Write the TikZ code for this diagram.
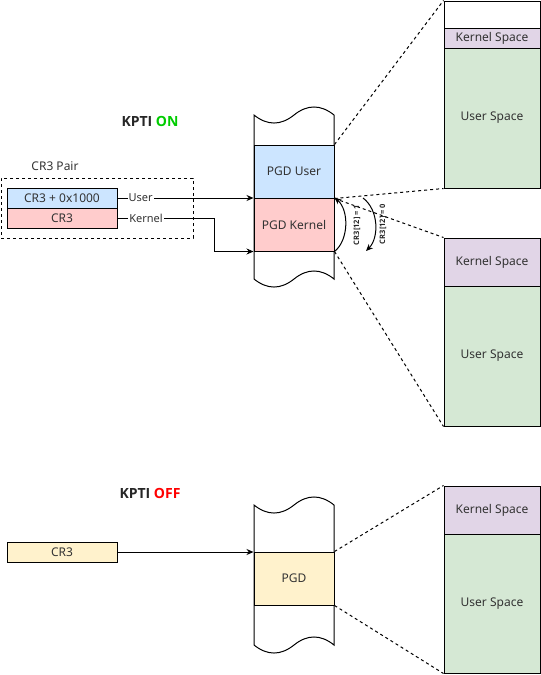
\documentclass[tikz,border=0pt]{standalone}
\usepackage{fontspec}
\setmainfont{Noto Sans}
\newfontfamily\titlefont{Open Sans}
\usetikzlibrary{arrows.meta}
\definecolor{blueF}{HTML}{CCE5FF}
\definecolor{pinkF}{HTML}{FFCCCC}
\definecolor{yellowF}{HTML}{FFF2CC}
\definecolor{purpF}{HTML}{E1D5E7}
\definecolor{greenF}{HTML}{D5E8D4}
\definecolor{txt}{HTML}{333333}
\definecolor{onG}{HTML}{00CC00}
\definecolor{offR}{HTML}{FF0000}
\tikzset{
  base/.style={draw=black, line width=1pt, inner sep=0pt, text=txt, font=\fontsize{12}{14}\selectfont},
  regbox/.style={base, minimum width=110pt, minimum height=20pt},
  pgdbox/.style={base, minimum width=80pt, minimum height=53pt},
  spacebox/.style={base, minimum width=96pt},
  arr/.style={line width=1pt, -{Stealth[length=7pt,width=6pt]}},
  dashln/.style={line width=1pt, dash pattern=on 3pt off 3pt},
  edgelbl/.style={fill=white, inner sep=1pt, text=txt, font=\fontsize{11}{13}\selectfont},
  title/.style={font=\titlefont\fontsize{14}{17}\selectfont\bfseries, text=black!85},
  small/.style={font=\titlefont\fontsize{7.5}{9}\selectfont\bfseries, text=black!85, inner sep=0pt},
  tapeln/.style={line width=1pt}
}
\begin{document}
\begin{tikzpicture}[x=1pt,y=-1pt]
\useasboundingbox (0,0) rectangle (541,675);

% ---------- KPTI ON ----------
\node[title] (ton) at (150,121) {KPTI \textcolor{onG}{ON}};
\node[font=\fontsize{12}{14}\selectfont, text=txt] (pairlbl) at (55,166) {CR3 Pair};
\node[draw=black, line width=1pt, dash pattern=on 3pt off 3pt, minimum width=192pt, minimum height=60pt, inner sep=0pt] (pair) at (97,208) {};
\node[regbox, fill=blueF] (cr3u) at (62,198) {CR3 + 0x1000};
\node[regbox, fill=pinkF] (cr3k) at (62,218) {CR3};

% tape 1
\draw[tapeln] (254,279) -- (254,115)
  .. controls (267.3,125.7) and (280.7,125.7) .. (294,115)
  .. controls (307.3,104.3) and (320.7,104.3) .. (334,115) -- (334,279)
  .. controls (320.7,268.3) and (307.3,268.3) .. (294,279)
  .. controls (280.7,289.7) and (267.3,289.7) .. (254,279);
\node[pgdbox, fill=blueF] (pgdu) at (294,171.5) {PGD User};
\node[pgdbox, fill=pinkF] (pgdk) at (294,224.5) {PGD Kernel};

% right boxes (top)
\node[spacebox, minimum height=27pt, fill=white] (w1) at (492,14.5) {};
\node[spacebox, minimum height=20pt, fill=purpF] (ks1) at (492,38) {Kernel Space};
\node[spacebox, minimum height=140pt, fill=greenF] (us1) at (492,118) {User Space};
% right boxes (middle)
\node[spacebox, minimum height=48pt, fill=purpF] (ks2) at (492,262) {Kernel Space};
\node[spacebox, minimum height=140pt, fill=greenF] (us2) at (492,356) {User Space};

% connectors
\draw[arr] (cr3u.east) -- (cr3u.east -| pgdu.south west)
  node[edgelbl, pos=0.17] (ulbl) {User};
\draw[arr] (cr3k.east) -- ++(97,0) |- (pgdk.south west);
\node[edgelbl] (klbl) at (146,218) {Kernel};

\draw[dashln] (pgdu.north east) -- (w1.north west);
\draw[dashln] (pgdu.south east) -- (us1.south west);
\draw[dashln] (pgdu.south east) -- (ks2.north west);
\draw[dashln] (pgdk.south east) -- (us2.south west);

\draw[arr] (pgdk.south east) .. controls (349,240) and (349,210) .. (pgdk.north east);
\coordinate (c2s) at (363,198);
\coordinate (c2e) at (366,251);
\draw[arr] (c2s) .. controls (379,210) and (379,238) .. (c2e);
\node[small, rotate=90] (l1) at (357,225) {CR3[12] = 1};
\node[small, rotate=90] (l0) at (383,224) {CR3[12] = 0};

% ---------- KPTI OFF ----------
\node[title] (toff) at (150,493) {KPTI \textcolor{offR}{OFF}};
\node[regbox, fill=yellowF] (cr3) at (62,552) {CR3};

\draw[tapeln] (254,645) -- (254,505)
  .. controls (267.3,515.7) and (280.7,515.7) .. (294,505)
  .. controls (307.3,494.3) and (320.7,494.3) .. (334,505) -- (334,645)
  .. controls (320.7,634.3) and (307.3,634.3) .. (294,645)
  .. controls (280.7,655.7) and (267.3,655.7) .. (254,645);
\node[pgdbox, fill=yellowF] (pgd) at (294,578.5) {PGD};

\node[spacebox, minimum height=48pt, fill=purpF] (ks3) at (492,510) {Kernel Space};
\node[spacebox, minimum height=139pt, fill=greenF] (us3) at (492,603.5) {User Space};

\draw[arr] (cr3.east) -- (cr3.east -| pgd.north west);
\draw[dashln] (pgd.north east) -- (ks3.north west);
\draw[dashln] (pgd.south east) -- (us3.south west);
\end{tikzpicture}
\end{document}
